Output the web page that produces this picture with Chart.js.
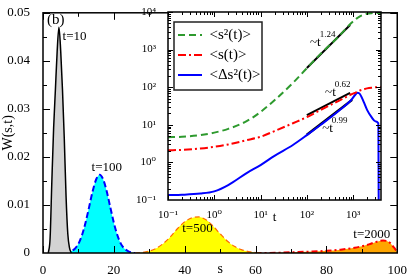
<!DOCTYPE html>
<html>
<head>
<meta charset="utf-8">
<script src="https://cdn.jsdelivr.net/npm/chart.js@4.4.1/dist/chart.umd.min.js"></script>
<style>
body { margin: 0; background: #fff; }
#wrap { position: relative; width: 409px; height: 278px; }
#main { position: absolute; left: 0; top: 0; }
#inset { position: absolute; left: 130px; top: 0; }
</style>
</head>
<body>
<div id="wrap">
<canvas id="main" width="409" height="278"></canvas>
<canvas id="inset" width="260" height="225"></canvas>
</div>
<script>
// main panel: W(s,t) for four times
const s10 = [1.5, 2, 2.5, 3, 3.5, 4, 4.5, 5, 5.5, 6, 6.5, 7, 7.5, 8];
const w10 = [0, 0.003, 0.015, 0.026, 0.034, 0.042, 0.047, 0.042, 0.034, 0.024, 0.012, 0.004, 0.001, 0];
const s100 = [6, 7, 8, 9, 10, 11, 12, 13, 14, 15, 16, 17, 18, 19, 20, 21, 22, 23, 24, 25, 26];
const w100 = [0, 0.0001, 0.0004, 0.0009, 0.0019, 0.0037, 0.0063, 0.0095, 0.0128, 0.0153, 0.0163,
              0.0153, 0.0128, 0.0095, 0.0063, 0.0037, 0.0019, 0.0009, 0.0004, 0.0001, 0];
const s500 = [26, 28, 30, 32, 34, 36, 38, 40, 42, 44, 46, 48, 50, 52, 54, 56, 58, 60, 62];
const w500 = [0, 0.0001, 0.0004, 0.0010, 0.0020, 0.0034, 0.0051, 0.0065, 0.0073, 0.0075,
              0.0069, 0.0056, 0.0040, 0.0025, 0.0014, 0.0007, 0.0003, 0.0001, 0];
const s2000 = [60, 64, 68, 72, 76, 80, 84, 88, 90, 92, 94, 96, 97, 98, 99, 100];
const w2000 = [0, 0.00002, 0.0001, 0.0002, 0.0003, 0.00045, 0.0007, 0.0011, 0.0014, 0.0018,
               0.0023, 0.0026, 0.0025, 0.0021, 0.0012, 0.0002];
const sTicks = [0, 20, 40, 60, 80, 100];
const wTicks = [0, 0.01, 0.02, 0.03, 0.04, 0.05];
const wLabels = ['0', '0.01', '0.02', '0.03', '0.04', '0.05'];

// inset: moments against t (log-log)
const tVals = [0.1, 0.2, 0.5, 1, 2, 5, 10, 20, 50, 100, 200, 500, 900, 1100, 1250, 1400, 1700,
               2000, 2500, 3000, 3500, 3600, 4000];
const meanS2 = [4.7, 4.8, 5.3, 6.2, 7.8, 12.5, 22, 45, 130, 320, 780, 2300, 5000, 6200, 7000, 7700,
                8500, 9000, 9300, 9400, 9400, 9400, 9400];
const meanS = [2.1, 2.15, 2.35, 2.6, 3.0, 3.9, 4.8, 6.8, 11, 16, 25, 44, 64, 71, 77, 82, 88, 93, 97,
               99, 100, 100, 100];
const varS = [0.135, 0.138, 0.148, 0.17, 0.25, 0.52, 0.85, 1.5, 2.9, 5.3, 10, 24, 45, 62, 71, 66,
              40, 25, 16, 12.5, 11, 0.01, 0.01];
const fit124T = [100, 860], fit124V = [324, 4500];
const fit062T = [100, 860], fit062V = [18, 71];
const fit099T = [100, 950], fit099V = [5.4, 46];
const tTicks = [0.1, 1, 10, 100, 1000];
const tLabels = ['10\u207B\u00B9', '10\u2070', '10\u00B9', '10\u00B2', '10\u00B3'];
const vTicks = [0.1, 1, 10, 100, 1000, 10000];
const vLabels = ['10\u207B\u00B9', '10\u2070', '10\u00B9', '10\u00B2', '10\u00B3', '10\u2074'];

const serif = '"Liberation Serif", "DejaVu Serif", serif';
const pts = (xs, ys) => xs.map((x, i) => ({x: x, y: ys[i]}));

// frame with inward ticks on all four sides
const frameTicks = {
    id: 'frameTicks',
    afterDatasetsDraw(chart, args, o) {
        const {ctx, chartArea: a, scales: {x, y}} = chart;
        ctx.save();
        ctx.strokeStyle = '#000';
        ctx.lineWidth = 1;
        ctx.beginPath();
        const onX = (vals, len) => vals.forEach(v => {
            const p = Math.round(x.getPixelForValue(v)) + 0.5;
            if (p < a.left || p > a.right) return;
            ctx.moveTo(p, a.bottom); ctx.lineTo(p, a.bottom - len);
            ctx.moveTo(p, a.top); ctx.lineTo(p, a.top + len);
        });
        const onY = (vals, len) => vals.forEach(v => {
            const p = Math.round(y.getPixelForValue(v)) + 0.5;
            if (p < a.top || p > a.bottom) return;
            ctx.moveTo(a.left, p); ctx.lineTo(a.left + len, p);
            ctx.moveTo(a.right, p); ctx.lineTo(a.right - len, p);
        });
        onX(o.xMajor, o.major); onX(o.xMinor, o.minor);
        onY(o.yMajor, o.major); onY(o.yMinor, o.minor);
        ctx.stroke();
        ctx.lineWidth = 1.5;
        ctx.strokeRect(a.left, a.top, a.width, a.height);
        ctx.restore();
    }
};

// text placed at data coordinates
const notes = {
    id: 'notes',
    afterDatasetsDraw(chart, args, o) {
        const {ctx, scales: {x, y}} = chart;
        ctx.save();
        ctx.fillStyle = '#000';
        ctx.textBaseline = 'middle';
        o.items.forEach(n => {
            const px = x.getPixelForValue(n.x), py = y.getPixelForValue(n.y);
            ctx.font = n.size + 'px ' + serif;
            ctx.textAlign = n.align || 'center';
            ctx.fillText(n.text, px, py);
            if (n.sup) {
                const w = ctx.measureText(n.text).width;
                ctx.font = '9px ' + serif;
                ctx.textAlign = 'left';
                ctx.fillText(n.sup, px + w - 1, py - 8);
            }
        });
        if (o.box) {
            const a = chart.chartArea;
            ctx.strokeStyle = '#222';
            ctx.lineWidth = 1.5;
            ctx.strokeRect(a.left + o.box[0], a.top + o.box[1], o.box[2], o.box[3]);
        }
        ctx.restore();
    }
};

// white plot area for the inset, legend moved inside it
const whiteArea = {
    id: 'whiteArea',
    beforeDraw(chart, args, o) {
        const {ctx, chartArea: a} = chart;
        const lg = chart.legend;
        if (o.legendAt && lg) {
            lg.left = a.left + o.legendAt[0];
            lg.top = a.top + o.legendAt[1];
            lg.right = lg.left + lg.width;
            lg.bottom = lg.top + lg.height;
        }
        ctx.save();
        ctx.fillStyle = '#fff';
        ctx.fillRect(a.left, a.top, a.width, a.height);
        ctx.restore();
    }
};

const mids = arr => arr.slice(1).map((v, i) => (v + arr[i]) / 2);
const logMinor = arr => arr.flatMap(d => [2, 3, 4, 5, 6, 7, 8, 9].map(k => k * d));

new Chart(document.getElementById('main'), {
    type: 'line',
    data: {
        datasets: [
            { data: pts(s10, w10), borderColor: '#000', borderWidth: 1.5, backgroundColor: '#d3d3d3', fill: 'origin' },
            { data: pts(s100, w100), borderColor: '#0000ff', borderWidth: 2, borderDash: [6, 3], backgroundColor: '#00ffff', fill: 'origin' },
            { data: pts(s500, w500), borderColor: '#ff6a00', borderWidth: 1.2, borderDash: [5, 3], backgroundColor: '#ffff00', fill: 'origin' },
            { data: pts(s2000, w2000), borderColor: '#ff0000', borderWidth: 2, borderDash: [6, 3, 2, 3], backgroundColor: '#ffa500', fill: 'origin' }
        ]
    },
    options: {
        responsive: false,
        animation: false,
        devicePixelRatio: 1,
        elements: { point: { radius: 0 }, line: { cubicInterpolationMode: 'monotone' } },
        layout: { padding: { top: 5, right: 11, left: 0, bottom: 0 } },
        plugins: {
            legend: { display: false },
            tooltip: { enabled: false },
            frameTicks: { xMajor: sTicks, xMinor: mids(sTicks), yMajor: wTicks, yMinor: mids(wTicks), major: 7, minor: 4 },
            notes: { items: [
                { text: '(b)', x: 3.6, y: 0.0484, size: 15 },
                { text: 't=10', x: 8.9, y: 0.045, size: 13 },
                { text: 't=100', x: 18.0, y: 0.0177, size: 13 },
                { text: 't=500', x: 43.6, y: 0.005, size: 13 },
                { text: 't=2000', x: 92.8, y: 0.0038, size: 13 }
            ] }
        },
        scales: {
            x: {
                type: 'linear', min: 0, max: 100,
                afterBuildTicks: s => { s.ticks = sTicks.map(v => ({value: v})); },
                afterFit: s => { s.height = 25; },
                grid: { display: false },
                border: { display: false },
                ticks: { color: '#000', padding: 2, maxRotation: 0, font: { family: serif, size: 13 } },
                title: { display: true, text: 's', color: '#000', padding: 0, font: { family: serif, size: 14 } }
            },
            y: {
                type: 'linear', min: 0, max: 0.05,
                afterBuildTicks: s => { s.ticks = wTicks.map(v => ({value: v})); },
                afterFit: s => { s.width = 43; },
                grid: { display: false },
                border: { display: false },
                ticks: { color: '#000', padding: 5, callback: (v, i) => wLabels[i], font: { family: serif, size: 13 } },
                title: { display: true, text: 'W(s,t)', color: '#000', padding: 0, font: { family: serif, size: 14 } }
            }
        }
    },
    plugins: [frameTicks, notes]
});

const baseLabels = Chart.defaults.plugins.legend.labels.generateLabels;

new Chart(document.getElementById('inset'), {
    type: 'line',
    data: {
        datasets: [
            { label: '<s\u00B2(t)>', data: pts(tVals, meanS2), borderColor: '#2e9a2e', borderWidth: 2, borderDash: [7, 4] },
            { label: '<s(t)>', data: pts(tVals, meanS), borderColor: '#ff0000', borderWidth: 2, borderDash: [8, 3, 2, 3] },
            { label: '<\u0394s\u00B2(t)>', data: pts(tVals, varS), borderColor: '#0000ff', borderWidth: 2 },
            { label: 'fit124', data: pts(fit124T, fit124V), borderColor: '#000', borderWidth: 2 },
            { label: 'fit062', data: pts(fit062T, fit062V), borderColor: '#000', borderWidth: 2 },
            { label: 'fit099', data: pts(fit099T, fit099V), borderColor: '#000', borderWidth: 2.5 }
        ]
    },
    options: {
        responsive: false,
        animation: false,
        devicePixelRatio: 1,
        elements: { point: { radius: 0 }, line: { cubicInterpolationMode: 'monotone' } },
        layout: { padding: { top: 12, right: 9, left: 0, bottom: 0 } },
        plugins: {
            legend: {
                position: 'chartArea', align: 'start',
                labels: {
                    filter: item => item.datasetIndex < 3,
                    generateLabels: chart => baseLabels(chart).map(item => {
                        const ds = chart.data.datasets[item.datasetIndex];
                        item.lineDash = ds.borderDash || [];
                        item.lineWidth = ds.borderWidth;
                        item.strokeStyle = ds.borderColor;
                        item.pointStyle = 'line';
                        return item;
                    }),
                    usePointStyle: true, pointStyle: 'line', pointStyleWidth: 24,
                    padding: 5, color: '#000', font: { family: serif, size: 15 }
                }
            },
            tooltip: { enabled: false },
            whiteArea: { legendAt: [5, 10.5] },
            frameTicks: { xMajor: tTicks, xMinor: logMinor(tTicks), yMajor: vTicks, yMinor: logMinor(vTicks), major: 5, minor: 3 },
            notes: { box: [6, 10, 88, 68], items: [
                { text: '~t', sup: '1.24', x: 117, y: 1500, size: 13, align: 'left' },
                { text: '~t', sup: '0.62', x: 248, y: 70, size: 13, align: 'left' },
                { text: '~t', sup: '0.99', x: 214, y: 7.7, size: 13, align: 'left' }
            ] }
        },
        scales: {
            x: {
                type: 'logarithmic', min: 0.1, max: 4000,
                afterBuildTicks: s => { s.ticks = tTicks.map(v => ({value: v})); },
                afterFit: s => { s.height = 25; },
                grid: { display: false },
                border: { display: false },
                ticks: { color: '#000', padding: 1, maxRotation: 0, autoSkip: false, callback: (v, i) => tLabels[i], font: { family: serif, size: 11 } },
                title: { display: true, text: 't', color: '#000', padding: 0, font: { family: serif, size: 13 } }
            },
            y: {
                type: 'logarithmic', min: 0.1, max: 10000,
                afterBuildTicks: s => { s.ticks = vTicks.map(v => ({value: v})); },
                afterFit: s => { s.width = 38; },
                grid: { display: false },
                border: { display: false },
                ticks: { color: '#000', padding: 4, autoSkip: false, callback: (v, i) => vLabels[i], font: { family: serif, size: 11 } }
            }
        }
    },
    plugins: [whiteArea, frameTicks, notes]
});
</script>
</body>
</html>
